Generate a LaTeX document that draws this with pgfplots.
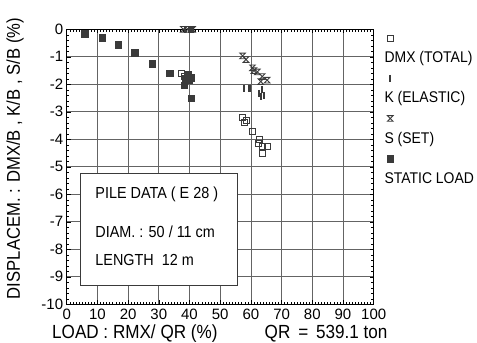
\documentclass[border=0pt]{standalone}
\usepackage{fontspec}
\setmainfont{Liberation Sans}
\newfontfamily\cond[FakeStretch=0.9]{Liberation Sans}
\usepackage{pgfplots}
\pgfplotsset{compat=1.18}
\pgfdeclareplotmark{hourglass}{%
  \pgfpathmoveto{\pgfpoint{-\pgfplotmarksize}{\pgfplotmarksize}}%
  \pgfpathlineto{\pgfpoint{\pgfplotmarksize}{\pgfplotmarksize}}%
  \pgfpathlineto{\pgfpoint{-\pgfplotmarksize}{-\pgfplotmarksize}}%
  \pgfpathlineto{\pgfpoint{\pgfplotmarksize}{-\pgfplotmarksize}}%
  \pgfpathclose
  \pgfusepathqstroke}
\definecolor{mk}{HTML}{3A3A3A}
\definecolor{gridc}{HTML}{646464}
\begin{document}
\begin{tikzpicture}
\useasboundingbox (-66.7pt,-38pt) rectangle (410.3pt,304.3pt);
\begin{axis}[
  at={(0,0)}, anchor=south west,
  scale only axis, width=307pt, height=275pt,
  xmin=0, xmax=100, ymin=-10, ymax=0,
  xtick={0,10,...,100}, ytick={-10,-9,...,0},
  minor x tick num=9, minor y tick num=4,
  grid=major,
  major grid style={gridc, line width=0.6pt},
  axis line style={black, line width=0.8pt},
  tick style={black, line width=0.5pt},
  major tick length=4pt, minor tick length=2.5pt,
  tick label style={font=\fontsize{15}{15}\selectfont},
  xticklabel style={yshift=-1.5pt},
  /pgf/number format/assume math mode=true,
  xlabel={LOAD : RMX/ QR (\%)},
  xlabel style={font=\cond\fontsize{19}{19}\selectfont, at={(rel axis cs:0.222,0)}, anchor=center, yshift=-29.5pt},
  ylabel={DISPLACEM. : DMX/B , K/B , S/B (\%)},
  ylabel style={font=\cond\fontsize{18.5}{18}\selectfont, at={(rel axis cs:0,0.53)}, anchor=center, yshift=51.7pt},
  clip=false,
  legend style={draw=none, fill=none, at={(rel axis cs:1.025,1)}, anchor=north west, yshift=-19pt,
    font=\cond\fontsize{15.5}{15.5}\selectfont, row sep=23.5pt, inner sep=1pt, column sep=0pt},
  legend cell align=left,
  legend image code/.code={\draw[overlay, mark repeat=1, mark phase=1] plot coordinates {(0.27cm,0.7cm)};},
]
\node[font=\cond\fontsize{19}{19}\selectfont, yshift=-29.5pt] at (rel axis cs:0.845,0) {QR\,\ =\ \,539.1 ton};
\draw[fill=white, draw=mk, line width=0.7pt] (axis cs:4.3,-5.24) rectangle (axis cs:55.5,-9.3);
\node[anchor=west, font=\cond\fontsize{16}{16}\selectfont] at (axis cs:8.2,-6.0) {PILE DATA ( E 28 )};
\node[anchor=west, font=\cond\fontsize{16}{16}\selectfont] at (axis cs:8.2,-7.36) {DIAM. : 50 / 11 cm};
\node[anchor=west, font=\cond\fontsize{16}{16}\selectfont] at (axis cs:8.2,-8.4) {LENGTH\ \ 12 m};

\addplot[only marks, mark=square, mark size=3pt, mk, line width=0.8pt] coordinates {
 (37.3,-1.6) (38.2,-1.7) (57.3,-3.2) (57.8,-3.4) (58.4,-3.3) (60.5,-3.72) (62.7,-4.02)
 (63.7,-4.27) (65.3,-4.27) (63.7,-4.5) (62.5,-4.15) };
\addlegendentry{DMX (TOTAL)}
\addplot[only marks, mark=|, mark size=3.4pt, mk, line width=2.4pt] coordinates {
 (38.5,0) (40,0) (41,0) (57.8,-2.15) (59.5,-2.15) (62.7,-2.33) (63.7,-2.2) (64.3,-2.4) (63.2,-2.45) };
\addlegendentry{K (ELASTIC)}
\addplot[only marks, mark=hourglass, mark size=2.8pt, mk, line width=0.9pt] coordinates {
 (38,0) (39.5,0) (41,0) (57.3,-0.97) (58.4,-1.1) (60.5,-1.4) (61,-1.5) (62.1,-1.55) (63.7,-1.72)
 (65.3,-1.85) (63.2,-1.9) };
\addlegendentry{S (SET)}
\addplot[only marks, mark=square*, mark size=3.3pt, draw=mk, fill=mk] coordinates {
 (5.9,-0.15) (11.6,-0.3) (16.8,-0.55) (22.2,-0.85) (27.8,-1.26) (33.5,-1.6) (38.8,-1.78)
 (39.9,-1.85) (38.3,-2.03) (40.5,-2.5) (39.5,-1.65) (40.6,-1.75) };
\addlegendentry{STATIC LOAD}
\end{axis}
\end{tikzpicture}
\end{document}
